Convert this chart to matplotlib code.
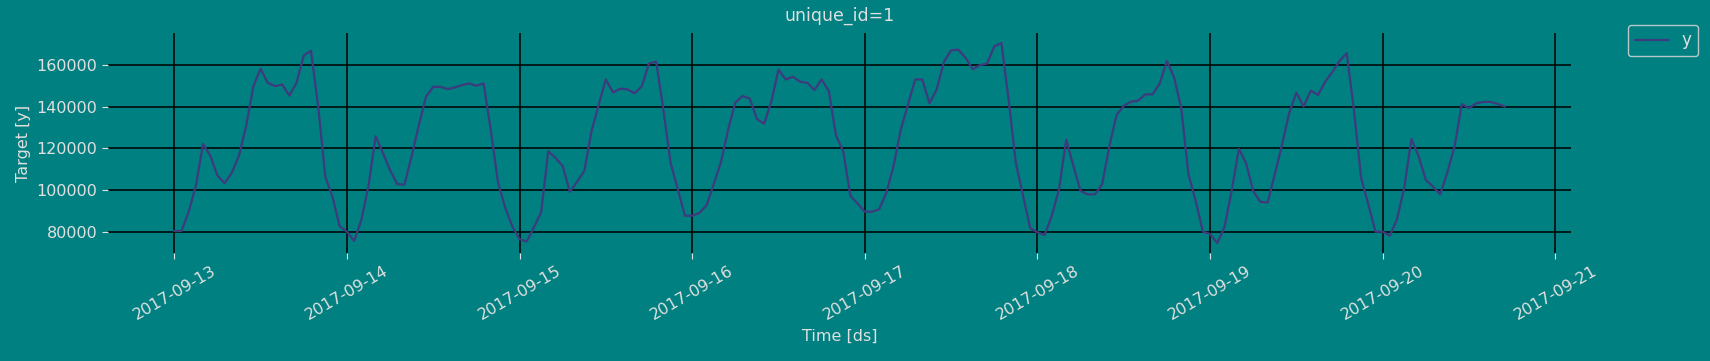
import numpy as np
import pandas as pd
import matplotlib
matplotlib.use('Agg')
import matplotlib.pyplot as plt

# hourly series
start = '2017-09-13 00:00'
y_values = [
    80600, 80600, 89800, 102100, 122100, 116600, 107100, 103400, 108400, 116600,
    130800, 149700, 158000, 151300, 149700, 150500, 145200, 151300, 164300, 166600,
    140300, 106500, 96900, 82800, 80300, 75900, 85700, 102100, 125800, 117900,
    109700, 103000, 102700, 116300, 131100, 144700, 149400, 149400, 148300, 149100,
    150200, 151000, 149900, 151000, 128900, 104000, 91800, 82800, 76700, 75600,
    82400, 89500, 118700, 115500, 111600, 99300, 104100, 109200, 128100, 140800,
    152900, 146700, 148500, 148200, 146300, 149700, 160500, 161400, 138400, 113100,
    100500, 87900, 87900, 89200, 92900, 102900, 113500, 128900, 141900, 145000,
    143800, 134000, 131800, 142300, 157600, 152900, 154200, 151800, 151300, 147900,
    152900, 147400, 126100, 118700, 97400, 93700, 89800, 89800, 91000, 98900,
    111600, 129000, 140800, 152900, 152900, 141500, 148200, 161300, 166800, 167100,
    163300, 157800, 159700, 160500, 168700, 170300, 143100, 113100, 97400, 81900,
    80000, 78700, 87900, 100500, 124200, 111600, 99700, 98100, 98100, 102900,
    121000, 136000, 140300, 142300, 142800, 145800, 145800, 151000, 161700, 153900,
    139200, 107600, 95000, 80300, 79200, 74900, 82400, 99700, 119800, 113100,
    99700, 94500, 94200, 107600, 121800, 136800, 146600, 140000, 147600, 145500,
    151800, 156500, 161700, 165500, 138400, 106000, 93400, 80300, 80300, 78400,
    86300, 101300, 124500, 116300, 104900, 101800, 98100, 108700, 121000, 141200,
    139200, 141500, 142200, 142200, 141200, 140000,
]
ds = pd.date_range(start, periods=len(y_values), freq='h')

bg = '#008080'
txt = '#e0e0e0'

plt.rcParams['font.family'] = 'DejaVu Sans'
plt.rcParams['font.size'] = 11.5

fig = plt.figure(figsize=(17.1, 3.61), dpi=100, facecolor=bg)
ax = fig.add_axes([0.063, 0.2992, 0.856, 0.6094], facecolor=bg)

ax.plot(ds, y_values, color='#3e3a7e', linewidth=1.6, label='y')

ax.grid(True, color='black', linewidth=1.1)
for s in ax.spines.values():
    s.set_visible(False)
ax.tick_params(colors=txt, labelcolor=txt, length=4)
ax.set_xticks(pd.date_range('2017-09-13', '2017-09-21', freq='D'))
ax.xaxis.set_major_formatter(matplotlib.dates.DateFormatter('%Y-%m-%d'))
plt.setp(ax.get_xticklabels(), rotation=30)
ax.set_yticks([80000, 100000, 120000, 140000, 160000])

ax.set_title('unique_id=1', color=txt, fontsize=12.5, pad=9)
ax.set_xlabel('Time [ds]', color=txt)
ax.set_ylabel('Target [y]', color=txt)

leg = ax.legend(loc='upper left', bbox_to_anchor=(1.033, 1.075), frameon=True,
                facecolor=bg, edgecolor='#b8c8c8', labelcolor=txt, fontsize=12)
leg.get_frame().set_alpha(1)

fig.savefig('out.png', dpi=100, facecolor=bg)
